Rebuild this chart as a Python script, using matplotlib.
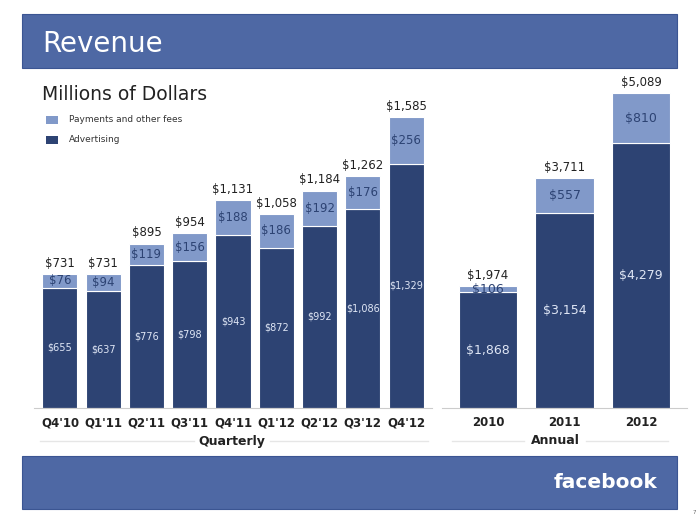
import matplotlib
matplotlib.use("Agg")
import matplotlib.pyplot as plt
from matplotlib.patches import Rectangle
from matplotlib.lines import Line2D

# quarterly revenue, millions of dollars
quarters = ["Q4'10", "Q1'11", "Q2'11", "Q3'11", "Q4'11", "Q1'12", "Q2'12", "Q3'12", "Q4'12"]
q_ads = [655, 637, 776, 798, 943, 872, 992, 1086, 1329]
q_pay = [76, 94, 119, 156, 188, 186, 192, 176, 256]
q_total = [731, 731, 895, 954, 1131, 1058, 1184, 1262, 1585]

# annual revenue
years = ["2010", "2011", "2012"]
y_ads = [1868, 3154, 4279]
y_pay = [106, 557, 810]
y_total = [1974, 3711, 5089]

dark = "#2d4373"
light = "#8199c9"
band = "#4e68a4"
W, H = 700, 525


def fx(px):
    return px / W


def fy(py):
    return 1 - py / H


def money(v):
    return "${:,}".format(v)


fig = plt.figure(figsize=(7, 5.25), dpi=100)
fig.patch.set_facecolor("white")

# header and footer bands
fig.patches.append(Rectangle((fx(22), fy(68)), fx(655), 54 / H, transform=fig.transFigure,
                             facecolor=band, edgecolor="#3b5592", lw=0.8, zorder=0))
fig.patches.append(Rectangle((fx(22), fy(509)), fx(655), 53 / H, transform=fig.transFigure,
                             facecolor=band, edgecolor="#3b5592", lw=0.8, zorder=0))
fig.text(fx(42), fy(44), "Revenue", color="white", fontsize=20, va="center", ha="left")
fig.text(fx(42), fy(95), "Millions of Dollars", color="#222222", fontsize=13.5, va="center", ha="left")
fig.text(fx(657), fy(483), "facebook", color="white", fontsize=14.5, fontweight="bold",
         va="center", ha="right")
fig.text(fx(694), fy(513), "7", color="#666666", fontsize=4, va="center", ha="center")

# legend
for ypx, col, lab in [(120, light, "Payments and other fees"), (140, dark, "Advertising")]:
    fig.patches.append(Rectangle((fx(46), fy(ypx + 4)), fx(12), 8 / H, transform=fig.transFigure,
                                 facecolor=col, edgecolor="none"))
    fig.text(fx(69), fy(ypx), lab, color="#333333", fontsize=6.5, va="center", ha="left")


def draw(ax, labels, ads, pay, total, width, ad_size, pay_size):
    x = range(len(labels))
    ax.bar(x, ads, width=width, color=dark, edgecolor="white", linewidth=0.8)
    ax.bar(x, pay, bottom=ads, width=width, color=light, edgecolor="white", linewidth=0.8)
    for i in x:
        ax.text(i, ads[i] / 2, money(ads[i]), color="#dfe6f5", fontsize=ad_size,
                ha="center", va="center")
        ax.text(i, ads[i] + pay[i] / 2, money(pay[i]), color=dark, fontsize=pay_size,
                ha="center", va="center")
        ax.annotate(money(total[i]), (i, total[i]), xytext=(0, 3), textcoords="offset points",
                    ha="center", va="bottom", fontsize=8.5, color="#222222")
    ax.set_xticks(list(x))
    ax.set_xticklabels(labels, fontsize=8.5, fontweight="bold", color="#222222")
    ax.tick_params(axis="x", length=0, pad=6)
    ax.set_yticks([])
    for s in ["top", "right", "left"]:
        ax.spines[s].set_visible(False)
    ax.spines["bottom"].set_color("#cccccc")
    ax.set_facecolor("none")


axq = fig.add_axes([fx(34), fy(408), fx(398), 328 / H])
axq.set_xlim(-0.6, 8.6)
axq.set_ylim(0, 1786)
draw(axq, quarters, q_ads, q_pay, q_total, 0.81, 7, 8.5)

axa = fig.add_axes([fx(442), fy(408), fx(245), 328 / H])
axa.set_xlim(-0.6, 2.6)
axa.set_ylim(0, 5299)
draw(axa, years, y_ads, y_pay, y_total, 0.76, 9, 9)

# group captions with faint rules
fig.text(fx(232), fy(441), "Quarterly", fontsize=9, fontweight="bold", color="#222222",
         ha="center", va="center")
fig.text(fx(555), fy(441), "Annual", fontsize=9, fontweight="bold", color="#222222",
         ha="center", va="center")
for a, b in [(40, 194), (270, 428), (452, 524), (586, 668)]:
    fig.lines.append(Line2D([fx(a), fx(b)], [fy(441), fy(441)], transform=fig.transFigure,
                            color="#e6e6e6", lw=1))

fig.savefig("out.png", dpi=100)
